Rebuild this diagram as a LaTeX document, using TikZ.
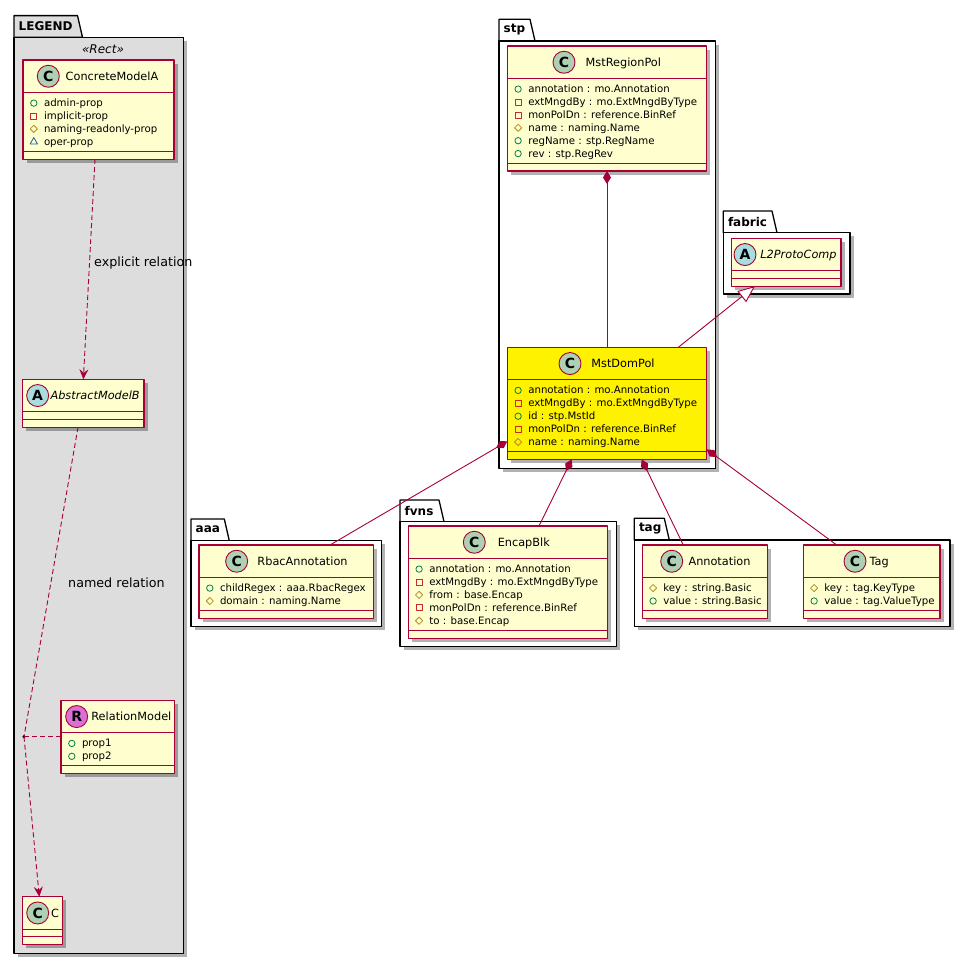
\documentclass[tikz,border=0pt]{standalone}
\usepackage{fontspec}
\setmainfont{DejaVu Sans}
\usetikzlibrary{arrows.meta,calc,shapes.geometric,shadows}
\definecolor{umlred}{HTML}{A80036}
\definecolor{umlfill}{HTML}{FEFECE}
\definecolor{spotC}{HTML}{ADD1B2}
\definecolor{spotA}{HTML}{A9DCDF}
\definecolor{spotR}{HTML}{DA70D6}
\definecolor{pubcol}{HTML}{038048}
\definecolor{privcol}{HTML}{C82930}
\definecolor{protcol}{HTML}{B38D22}
\definecolor{pkgcol}{HTML}{1963A0}
\definecolor{legendgray}{HTML}{DDDDDD}
\begin{document}
\begin{tikzpicture}[x=1pt, y=-1pt, line join=round,
    boxshadow/.style={drop shadow={shadow xshift=3.5pt, shadow yshift=-3.5pt, opacity=0.3, fill=black}},
    pkg/.style={draw=black, line width=1.3pt, fill=white},
    pkgbody/.style={pkg, boxshadow, anchor=north west, inner sep=0, outer sep=0},
    pkgname/.style={anchor=west, inner sep=0, font=\fontsize{12}{14}\selectfont\bfseries},
    cls/.style={draw=umlred, fill=umlfill, line width=1.1pt, anchor=north west, inner sep=0, outer sep=0, boxshadow},
    clsline/.style={draw=umlred, line width=1.1pt},
    clsname/.style={inner sep=0, text height=8.2pt, text depth=0pt, font=\fontsize{11.3}{13}\selectfont},
    absname/.style={clsname, font=\fontsize{11.3}{13}\selectfont\itshape},
    spot/.style={circle, draw=umlred, line width=0.9pt, minimum size=22pt, inner sep=0, font=\fontsize{14}{14}\selectfont\bfseries},
    attr/.style={anchor=base west, inner sep=0, font=\fontsize{10.2}{12.9}\selectfont},
    vispub/.style={circle, draw=pubcol, line width=0.8pt, minimum size=6.4pt, inner sep=0},
    vispriv/.style={rectangle, draw=privcol, line width=0.8pt, minimum size=6pt, inner sep=0},
    visprot/.style={diamond, draw=protcol, line width=0.8pt, minimum size=7.5pt, inner sep=0},
    vispkg/.style={regular polygon, regular polygon sides=3, draw=pkgcol, line width=0.8pt, minimum size=8.5pt, inner sep=0},
    link/.style={draw=umlred, line width=0.9pt},
    comp/.style={link, {Diamond[length=13pt, width=8pt]}-},
    gen/.style={link, -{Triangle[open, length=17pt, width=14pt, fill=white]}},
    dashes/.style={link, dash pattern=on 5pt off 3pt},
    dep/.style={dashes, -{Stealth[length=10pt, width=9pt, inset=3.5pt]}},
    rel/.style={anchor=base west, inner sep=0, font=\fontsize{12.7}{14}\selectfont},
    dot/.style={circle, fill=black, minimum size=3.5pt, inner sep=0}]
  \path[use as bounding box, fill=white] (0,0) rectangle (970,964);

  % packages
  \foreach \id/\x/\y/\w/\h/\tw/\f in {LEGEND/14/37.3/169.3/916/63.5/legendgray,
      stp/499/41/216.7/427.3/31/white, fabric/723.3/232.7/126.7/61.3/48.7/white,
      aaa/191/540.7/190.7/86/33.3/white, fvns/400/521.7/216.7/125/39/white,
      tag/634.3/540/315.7/86.7/30/white}{
    \draw[pkg, fill=\f] (\x,\y) -- ++(0,-21.7) -- ++(\tw,0) -- ++(5,21.7) -- cycle;
    \node[pkgbody, fill=\f, minimum width=\w pt, minimum height=\h pt] (\id) at (\x,\y) {};
    \node[pkgname] (\id-n) at (\x+4.5,\y-11) {\id};
  }
  \node[font=\fontsize{12}{14}\selectfont\itshape, inner sep=0] (stereo) at (103,49.5) {«Rect»};

  % classes
  \foreach \id/\x/\y/\w/\h/\f/\sc/\lt/\st/\tx/\sx in {
      ConcreteModelA/23/60/151/99.2/umlfill/spotC/C/clsname/13.5/-50.2,
      AbstractModelB/22.7/379.3/121.3/47.8/umlfill/spotA/A/absname/11.8/-45.7,
      RelationModel/61/700.3/113.3/73.4/umlfill/spotR/R/clsname/13.7/-41,
      C/22.7/896.7/39.6/47.8/umlfill/spotC/C/clsname/12.5/-4.8,
      MstRegionPol/507.3/46/199.4/125/umlfill/spotC/C/clsname/16.35/-43,
      MstDomPol/507.3/347.3/199.4/112.1/yellow/spotC/C/clsname/16/-37,
      L2ProtoComp/731.7/238.3/109.3/47.8/umlfill/spotA/A/absname/12.15/-41.35,
      RbacAnnotation/199/545/174.3/73.4/umlfill/spotC/C/clsname/16.4/-49.5,
      EncapBlk/408.3/526/199.4/112.1/umlfill/spotC/C/clsname/15.8/-33.7,
      Annotation/642.3/545/125.4/73.4/umlfill/spotC/C/clsname/14.5/-33.3,
      Tag/803.3/545/136.7/73.4/umlfill/spotC/C/clsname/7.5/-16.65}{
    \node[cls, fill=\f, minimum width=\w pt, minimum height=\h pt] (\id) at (\x,\y) {};
    \draw[clsline] ([yshift=-32.5pt]\id.north west) -- ([yshift=-32.5pt]\id.north east)
      ([yshift=7.8pt]\id.south west) -- ([yshift=7.8pt]\id.south east);
    \node[\st] (\id-n) at ($(\id.north)+(\tx,16.25)$) {\id};
    \node[spot, fill=\sc] (\id-s) at ($(\id.north)+(\sx,16.25)$) {\lt};
  }

  % attributes
  \foreach \id/\i/\vis/\txt in {
      ConcreteModelA/1/vispub/admin-prop, ConcreteModelA/2/vispriv/implicit-prop,
      ConcreteModelA/3/visprot/naming-readonly-prop, ConcreteModelA/4/vispkg/oper-prop,
      RelationModel/1/vispub/prop1, RelationModel/2/vispub/prop2,
      MstRegionPol/1/vispub/annotation : mo.Annotation,
      MstRegionPol/2/vispriv/extMngdBy : mo.ExtMngdByType,
      MstRegionPol/3/vispriv/monPolDn : reference.BinRef,
      MstRegionPol/4/visprot/name : naming.Name,
      MstRegionPol/5/vispub/regName : stp.RegName,
      MstRegionPol/6/vispub/rev : stp.RegRev,
      MstDomPol/1/vispub/annotation : mo.Annotation,
      MstDomPol/2/vispriv/extMngdBy : mo.ExtMngdByType,
      MstDomPol/3/vispub/id : stp.MstId,
      MstDomPol/4/vispriv/monPolDn : reference.BinRef,
      MstDomPol/5/visprot/name : naming.Name,
      RbacAnnotation/1/vispub/childRegex : aaa.RbacRegex,
      RbacAnnotation/2/visprot/domain : naming.Name,
      EncapBlk/1/vispub/annotation : mo.Annotation,
      EncapBlk/2/vispriv/extMngdBy : mo.ExtMngdByType,
      EncapBlk/3/visprot/from : base.Encap,
      EncapBlk/4/vispriv/monPolDn : reference.BinRef,
      EncapBlk/5/visprot/to : base.Encap,
      Annotation/1/visprot/key : string.Basic, Annotation/2/vispub/value : string.Basic,
      Tag/1/visprot/key : tag.KeyType, Tag/2/vispub/value : tag.ValueType}{
    \node[\vis] (\id-v\i) at ($(\id.north west)+(10.8,30.2+12.9*\i)$) {};
    \node[attr] (\id-a\i) at ($(\id.north west)+(20.8,33.7+12.9*\i)$) {\txt};
  }

  % relations
  \draw[comp] (MstRegionPol.south) -- (MstDomPol.north);
  \draw[gen] ($(MstDomPol.north west)+(171,0)$) -- ($(L2ProtoComp.south west)+(23.3,0)$);
  \draw[comp] ($(MstDomPol.north west)+(0,94)$) -- ($(RbacAnnotation.north west)+(131,0)$);
  \draw[comp] ($(MstDomPol.south west)+(64.4,0)$) -- ($(EncapBlk.north west)+(130.7,0)$);
  \draw[comp] ($(MstDomPol.south west)+(134.4,0)$) -- ($(Annotation.north west)+(41,0)$);
  \draw[comp] ($(MstDomPol.south east)+(0,-10)$) -- ($(Tag.north west)+(33.4,0)$);

  % legend relations
  \draw[dep] ($(ConcreteModelA.south)+(-3.5,0)$) -- (AbstractModelB.north);
  \node[rel] (explicit) at (94,266.5) {explicit relation};
  \node[dot] (relpt) at (24,736.7) {};
  \draw[dashes] ($(AbstractModelB.south)+(-5.3,0)$) -- (relpt.center);
  \draw[dep] (relpt.center) -- ($(C.north)+(-3.2,0)$);
  \draw[dashes] (relpt.center) -- (RelationModel.west |- relpt);
  \node[rel] (named) at (68,587) {named relation};
\end{tikzpicture}
\end{document}
